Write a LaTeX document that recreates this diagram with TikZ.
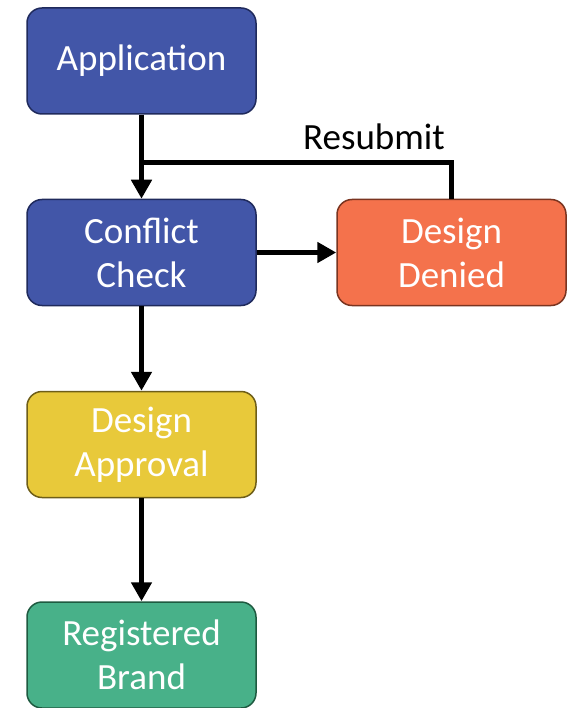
\documentclass[tikz,border=0pt]{standalone}
\usepackage{fontspec}
\setmainfont{Carlito}
\usetikzlibrary{arrows.meta}
\definecolor{cblue}{HTML}{4256A8}
\definecolor{cbluel}{HTML}{1F2A5C}
\definecolor{corange}{HTML}{F4724C}
\definecolor{corangel}{HTML}{7A3420}
\definecolor{cyellow}{HTML}{E8C93A}
\definecolor{cyellowl}{HTML}{6E5E18}
\definecolor{cgreen}{HTML}{48B189}
\definecolor{cgreenl}{HTML}{1E5A40}
\begin{document}
\begin{tikzpicture}[x=1pt,y=1pt,
  box/.style={rectangle, rounded corners=15pt, minimum width=229pt, minimum height=106pt,
    inner sep=0pt, line width=1.5pt, text=white, align=center,
    font=\fontsize{37}{44}\selectfont},
  conn/.style={line width=5pt, -{Triangle[length=19pt,width=20pt]}},
  plain/.style={line width=5pt}]
\useasboundingbox (0,0) rectangle (568,-708);
\node[box, fill=cblue, draw=cbluel] (app) at (141.5,-61) {Application};
\node[box, fill=cblue, draw=cbluel] (conf) at (141.5,-252.5) {Conflict\\Check};
\node[box, fill=corange, draw=corangel] (den) at (451.5,-252.5) {Design\\Denied};
\node[box, fill=cyellow, draw=cyellowl] (appr) at (141.5,-444.5) {Design\\Approval};
\node[box, fill=cgreen, draw=cgreenl] (reg) at (141.5,-655) {Registered\\Brand};
\coordinate (j) at (141.5,-163);
\node[font=\fontsize{37}{44}\selectfont, text=black, inner sep=0pt] (lbl) at (374,-137) {Resubmit};
\draw[conn] (app.south) -- (conf.north);
\draw[plain] (den.north) |- (j);
\draw[conn] (conf.east) -- (den.west);
\draw[conn] (conf.south) -- (appr.north);
\draw[conn] (appr.south) -- (reg.north);
\end{tikzpicture}
\end{document}
